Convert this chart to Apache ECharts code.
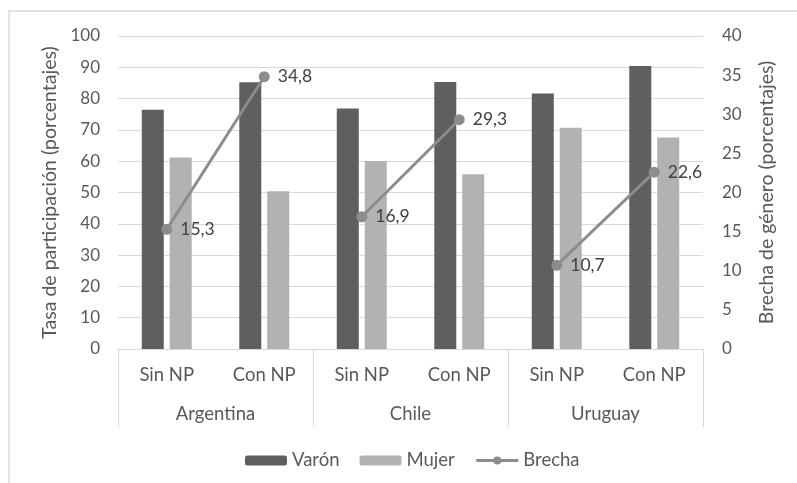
<!DOCTYPE html>
<html>
<head>
<meta charset="utf-8">
<script src="https://cdn.jsdelivr.net/npm/echarts@6/dist/echarts.min.js"></script>
<style>html,body{margin:0;padding:0;background:#fff}#c{width:797px;height:483px}</style>
</head>
<body>
<div id="c"></div>
<script>
var subCategories = ['Sin NP', 'Con NP', 'Sin NP', 'Con NP', 'Sin NP', 'Con NP'];
var countries = ['Argentina', 'Chile', 'Uruguay'];
var varon = [76.4, 85.2, 76.8, 85.3, 81.6, 90.4];
var mujer = [61.2, 50.4, 60.1, 55.8, 70.7, 67.6];
var brechaArgentina = [15.3, 34.8, '-', '-', '-', '-'];
var brechaChile = ['-', '-', 16.9, 29.3, '-', '-'];
var brechaUruguay = ['-', '-', '-', '-', 10.7, 22.6];
var leftTicks = {min: 0, max: 100, interval: 10};
var rightTicks = {min: 0, max: 40, interval: 5};

var FONT = 'Lato';
var TXT = '#595959';
var chart = echarts.init(document.getElementById('c'), null, {renderer: 'canvas'});

function lineSeries(data) {
  return {
    name: 'Brecha', type: 'line', xAxisIndex: 0, yAxisIndex: 1, data: data,
    symbol: 'circle', symbolSize: 11, connectNulls: false,
    lineStyle: {color: '#8c8c8c', width: 3},
    itemStyle: {color: '#8c8c8c'},
    label: {show: true, position: 'right', distance: 8, color: '#404040', fontFamily: FONT, fontSize: 17.5,
      formatter: function (p) { return String(p.value).replace('.', ','); }},
    z: 5
  };
}

chart.setOption({
  animation: false,
  textStyle: {fontFamily: FONT, color: TXT},
  graphic: [{type: 'rect', shape: {x: 9, y: 11, width: 900, height: 600},
    style: {fill: 'none', stroke: '#d9d9d9', lineWidth: 1.5}, silent: true}],
  grid: {left: 118, right: 94, top: 36, bottom: 134},
  legend: {
    data: ['Varón', 'Mujer', 'Brecha'], top: 446, left: 240,
    itemWidth: 42, itemHeight: 10, itemGap: 20,
    lineStyle: {width: 3},
    textStyle: {color: TXT, fontFamily: FONT, fontSize: 18.5}
  },
  xAxis: [{
    type: 'category', data: subCategories, position: 'bottom',
    axisLine: {show: true, lineStyle: {color: '#d9d9d9', width: 1}},
    axisTick: {show: false},
    axisLabel: {color: TXT, fontFamily: FONT, fontSize: 18.5, margin: 17, interval: 0}
  }, {
    type: 'category', data: countries, position: 'bottom',
    axisLine: {show: false},
    axisTick: {show: true, length: 78, inside: false, lineStyle: {color: '#d9d9d9'}},
    axisLabel: {color: TXT, fontFamily: FONT, fontSize: 18.5, margin: 56, interval: 0}
  }],
  yAxis: [{
    type: 'value', min: leftTicks.min, max: leftTicks.max, interval: leftTicks.interval,
    name: 'Tasa de participación (porcentajes)', nameLocation: 'middle', nameGap: 56, nameRotate: 90,
    nameTextStyle: {color: TXT, fontFamily: FONT, fontSize: 19.5},
    axisLine: {show: false}, axisTick: {show: false},
    axisLabel: {color: TXT, fontFamily: FONT, fontSize: 17, margin: 18},
    splitLine: {lineStyle: {color: '#d9d9d9'}}
  }, {
    type: 'value', min: rightTicks.min, max: rightTicks.max, interval: rightTicks.interval,
    name: 'Brecha de género (porcentajes)', nameLocation: 'middle', nameGap: 54, nameRotate: 90,
    nameTextStyle: {color: TXT, fontFamily: FONT, fontSize: 19.5},
    axisLine: {show: false}, axisTick: {show: false},
    axisLabel: {color: TXT, fontFamily: FONT, fontSize: 17, margin: 19},
    splitLine: {show: false}
  }],
  series: [{
    name: 'Varón', type: 'bar', data: varon, xAxisIndex: 0, yAxisIndex: 0,
    barWidth: 22, barGap: '27%', itemStyle: {color: '#5f5f5f'}
  }, {
    name: 'Mujer', type: 'bar', data: mujer, xAxisIndex: 0, yAxisIndex: 0,
    barWidth: 22, barGap: '27%', itemStyle: {color: '#b2b2b2'}
  },
  lineSeries(brechaArgentina), lineSeries(brechaChile), lineSeries(brechaUruguay)]
});
</script>
</body>
</html>
